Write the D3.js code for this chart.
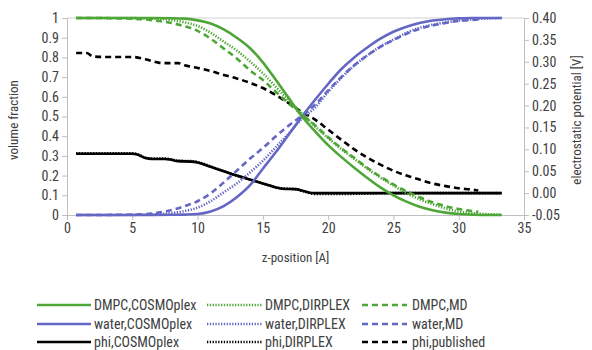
<!DOCTYPE html>
<html>
<head>
<meta charset="utf-8">
<script src="https://cdn.jsdelivr.net/npm/d3@7"></script>
<style>
  body { margin: 0; background: #fff; }
  svg text { font-family: "Liberation Sans Narrow", "Roboto Condensed", "Liberation Sans", sans-serif; fill: #404040; }
  .axis path, .axis line { stroke: #bfbfbf; }
</style>
</head>
<body>
<svg id="svg" width="592" height="350"></svg>
<script>
// z grid for volume fraction curves
var zGrid = [0.7, 2, 4, 6, 8, 9, 10, 11, 12, 13, 14, 15, 16, 17, 18, 19, 20, 21, 22, 23, 24, 25, 26, 27, 28, 29, 30, 31, 32, 33.3];

var dmpcCosmo = [1, 1, 1, 1, 0.999, 0.997, 0.988, 0.972, 0.942, 0.9, 0.848, 0.775, 0.685, 0.592, 0.5, 0.425, 0.355, 0.295, 0.24, 0.188, 0.14, 0.10, 0.068, 0.042, 0.024, 0.012, 0.005, 0.002, 0, 0];
var waterCosmo = [0, 0, 0, 0, 0.001, 0.002, 0.005, 0.018, 0.045, 0.09, 0.15, 0.235, 0.32, 0.41, 0.5, 0.585, 0.665, 0.74, 0.8, 0.85, 0.895, 0.93, 0.956, 0.975, 0.987, 0.994, 0.998, 1, 1, 1];
var dmpcDirplex = [1, 1, 1, 0.998, 0.99, 0.978, 0.96, 0.925, 0.88, 0.835, 0.78, 0.72, 0.65, 0.58, 0.515, 0.45, 0.39, 0.335, 0.285, 0.235, 0.19, 0.15, 0.11, 0.08, 0.055, 0.033, 0.018, 0.01, 0.005, 0.002];
var waterDirplex = [0, 0, 0, 0.002, 0.01, 0.02, 0.037, 0.07, 0.115, 0.16, 0.215, 0.275, 0.345, 0.415, 0.49, 0.545, 0.625, 0.695, 0.758, 0.81, 0.855, 0.89, 0.925, 0.95, 0.966, 0.978, 0.987, 0.993, 0.997, 1];

// MD data stops earlier
var zMD = [0.7, 2, 4, 6, 7, 8, 9, 10, 11, 12, 13, 14, 15, 16, 17, 18, 19, 20, 21, 22, 23, 24, 25, 26, 27, 28, 29, 30, 31, 31.5];
var dmpcMD = [1, 1, 0.998, 0.993, 0.985, 0.975, 0.958, 0.935, 0.895, 0.845, 0.795, 0.735, 0.685, 0.625, 0.565, 0.51, 0.455, 0.395, 0.34, 0.29, 0.24, 0.195, 0.155, 0.12, 0.09, 0.065, 0.045, 0.03, 0.02, 0.016];
var waterMD = [0, 0, 0.001, 0.005, 0.012, 0.025, 0.045, 0.07, 0.11, 0.165, 0.225, 0.285, 0.34, 0.4, 0.455, 0.505, 0.56, 0.632, 0.7, 0.76, 0.81, 0.853, 0.888, 0.92, 0.945, 0.962, 0.975, 0.985, 0.99, 0.992];

// electrostatic potential [V], right axis
var zPhi = [0.7, 5, 5.3, 6, 6.5, 7.5, 8, 8.5, 9.5, 10, 11, 12, 13, 14, 15, 16, 16.5, 17.5, 18, 18.6, 19, 21, 23, 25, 33.3];
var phiCosmo = [0.09, 0.09, 0.089, 0.08, 0.078, 0.078, 0.076, 0.073, 0.072, 0.07, 0.06, 0.05, 0.04, 0.031, 0.022, 0.013, 0.01, 0.009, 0.006, 0.001, 0, 0, 0, 0, 0];
var phiDirplex = [0.091, 0.091, 0.09, 0.081, 0.079, 0.079, 0.077, 0.074, 0.073, 0.071, 0.061, 0.05, 0.04, 0.031, 0.022, 0.013, 0.011, 0.009, 0.005, 0, -0.002, -0.002, -0.001, 0, 0];
var zPub = [0.7, 1.5, 2, 3, 5, 6, 7, 7.5, 8.5, 9, 10, 11, 12, 13, 14, 15, 16, 17, 18, 19, 20, 21, 22, 23, 24, 25, 26, 27, 28, 29, 30, 31, 31.5];
var phiPub = [0.32, 0.32, 0.312, 0.311, 0.311, 0.306, 0.298, 0.297, 0.297, 0.292, 0.286, 0.279, 0.27, 0.262, 0.252, 0.24, 0.224, 0.205, 0.185, 0.168, 0.145, 0.122, 0.1, 0.081, 0.065, 0.051, 0.04, 0.031, 0.022, 0.016, 0.011, 0.008, 0.006];

var xTicks = [0, 5, 10, 15, 20, 25, 30, 35];
var leftTicks = [0, 0.1, 0.2, 0.3, 0.4, 0.5, 0.6, 0.7, 0.8, 0.9, 1];
var rightTicks = [-0.05, 0, 0.05, 0.10, 0.15, 0.20, 0.25, 0.30, 0.35, 0.40];

var GREEN = "#4ea637", BLUE = "#6467c4", BLACK = "#000";
var SOLID = null, DOTTED = "1.3,1.5", DASHED = "6,4";

var svg = d3.select("#svg");

var x = d3.scaleLinear().domain([0, 35]).range([67, 524]);
var yL = d3.scaleLinear().domain([0, 1]).range([215, 18]);
var yR = d3.scaleLinear().domain([-0.05, 0.40]).range([215, 18]);

// top border of plot area
svg.append("line")
    .attr("x1", x(0)).attr("x2", x(35))
    .attr("y1", yL(1)).attr("y2", yL(1))
    .attr("stroke", "#d0d0d0");

svg.append("g")
    .attr("class", "axis")
    .attr("transform", "translate(0," + yL(0) + ")")
    .call(d3.axisBottom(x).tickValues(xTicks).tickSize(5).tickSizeOuter(0))
    .selectAll("text").style("font-size", "14px");

svg.append("g")
    .attr("class", "axis")
    .attr("transform", "translate(" + x(0) + ",0)")
    .call(d3.axisLeft(yL).tickValues(leftTicks).tickSize(5).tickSizeOuter(0)
        .tickFormat(d => (d === 0 || d === 1) ? d : d.toFixed(1)))
    .selectAll("text").style("font-size", "14px");

svg.append("g")
    .attr("class", "axis")
    .attr("transform", "translate(" + x(35) + ",0)")
    .call(d3.axisRight(yR).tickValues(rightTicks).tickSize(5).tickSizeOuter(0)
        .tickFormat(d => d.toFixed(2)))
    .selectAll("text").style("font-size", "14px");

svg.selectAll(".axis text").attr("fill", "#404040");

svg.append("text")
    .attr("x", x(17.5)).attr("y", 262)
    .attr("text-anchor", "middle")
    .style("font-size", "13px")
    .text("z-position [A]");

svg.append("text")
    .attr("transform", "translate(18,120) rotate(-90)")
    .attr("text-anchor", "middle")
    .style("font-size", "13px")
    .text("volume fraction");

svg.append("text")
    .attr("transform", "translate(581,120) rotate(-90)")
    .attr("text-anchor", "middle")
    .style("font-size", "13px")
    .text("electrostatic potential [V]");

var series = [
    {name: "phi,published", z: zPub, v: phiPub, y: yR, color: BLACK, dash: DASHED},
    {name: "phi,DIRPLEX", z: zPhi, v: phiDirplex, y: yR, color: BLACK, dash: DOTTED},
    {name: "phi,COSMOplex", z: zPhi, v: phiCosmo, y: yR, color: BLACK, dash: SOLID},
    {name: "water,MD", z: zMD, v: waterMD, y: yL, color: BLUE, dash: DASHED},
    {name: "water,DIRPLEX", z: zGrid, v: waterDirplex, y: yL, color: BLUE, dash: DOTTED},
    {name: "water,COSMOplex", z: zGrid, v: waterCosmo, y: yL, color: BLUE, dash: SOLID},
    {name: "DMPC,MD", z: zMD, v: dmpcMD, y: yL, color: GREEN, dash: DASHED},
    {name: "DMPC,DIRPLEX", z: zGrid, v: dmpcDirplex, y: yL, color: GREEN, dash: DOTTED},
    {name: "DMPC,COSMOplex", z: zGrid, v: dmpcCosmo, y: yL, color: GREEN, dash: SOLID}
];

series.forEach(s => {
    var line = d3.line()
        .x((d, i) => x(s.z[i]))
        .y(d => s.y(d))
        .curve(d3.curveMonotoneX);
    svg.append("path")
        .datum(s.v)
        .attr("fill", "none")
        .attr("stroke", s.color)
        .attr("stroke-width", 2.6)
        .attr("stroke-dasharray", s.dash)
        .attr("d", line);
});

// legend: 3 columns x 3 rows
var legendCols = [
    {x1: 37, x2: 91, tx: 94},
    {x1: 207, x2: 263, tx: 265},
    {x1: 362, x2: 407, tx: 412}
];
var legendRows = [305, 324, 342];
var legendItems = [
    ["DMPC,COSMOplex", "DMPC,DIRPLEX", "DMPC,MD"],
    ["water,COSMOplex", "water,DIRPLEX", "water,MD"],
    ["phi,COSMOplex", "phi,DIRPLEX", "phi,published"]
];

var legend = svg.append("g").attr("id", "legend");
legendItems.forEach((row, r) => {
    row.forEach((name, c) => {
        var s = series.find(d => d.name === name);
        var col = legendCols[c];
        legend.append("line")
            .attr("x1", col.x1).attr("x2", col.x2)
            .attr("y1", legendRows[r]).attr("y2", legendRows[r])
            .attr("stroke", s.color)
            .attr("stroke-width", 2.6)
            .attr("stroke-dasharray", s.dash);
        legend.append("text")
            .attr("x", col.tx).attr("y", legendRows[r])
            .attr("dy", "0.35em")
            .style("font-size", "14px")
            .text(name);
    });
});
</script>
</body>
</html>
